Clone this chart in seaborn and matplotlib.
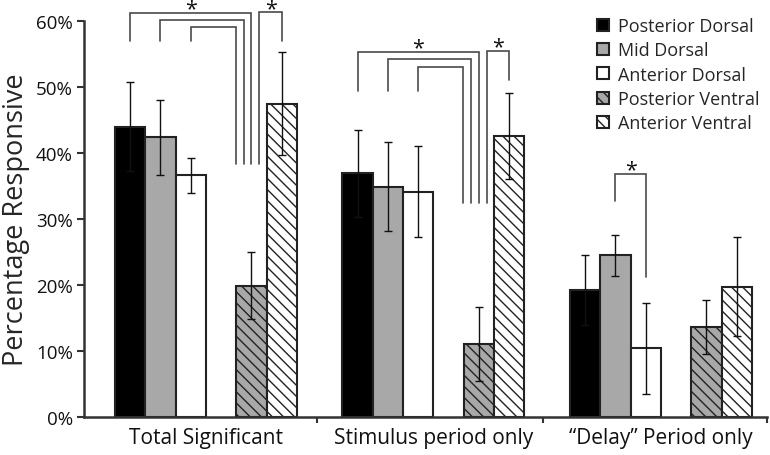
import numpy as np
import pandas as pd
import matplotlib.pyplot as plt
import seaborn as sns
from matplotlib.ticker import PercentFormatter, FixedLocator

# data (percent responsive, +/- error)
groups = ["Total Significant", "Stimulus period only", "\u201cDelay\u201d Period only"]
regions = ["Posterior Dorsal", "Mid Dorsal", "Anterior Dorsal",
           "Posterior Ventral", "Anterior Ventral"]

posterior_dorsal = [44.0, 36.9, 19.3]
mid_dorsal = [42.4, 34.9, 24.5]
anterior_dorsal = [36.6, 34.1, 10.4]
posterior_ventral = [19.9, 11.1, 13.6]
anterior_ventral = [47.5, 42.6, 19.7]

err_posterior_dorsal = [6.8, 6.6, 5.3]
err_mid_dorsal = [5.7, 6.7, 3.1]
err_anterior_dorsal = [2.7, 6.9, 6.9]
err_posterior_ventral = [5.1, 5.6, 4.1]
err_anterior_ventral = [7.8, 6.5, 7.5]

values = [posterior_dorsal, mid_dorsal, anterior_dorsal, posterior_ventral, anterior_ventral]
errors = [err_posterior_dorsal, err_mid_dorsal, err_anterior_dorsal,
          err_posterior_ventral, err_anterior_ventral]

# long form table, with an empty slot between dorsal and ventral bars
gap = "gap"
hue_order = regions[:3] + [gap] + regions[3:]
rows = []
for r, vals in zip(regions, values):
    for g, v in zip(groups, vals):
        rows.append({"group": g, "region": r, "value": v})
for g in groups:
    rows.append({"group": g, "region": gap, "value": 0.0})
df = pd.DataFrame(rows)

palette = {"Posterior Dorsal": "#000000", "Mid Dorsal": "#a8a8a8",
           "Anterior Dorsal": "#ffffff", gap: "#ffffff",
           "Posterior Ventral": "#a8a8a8", "Anterior Ventral": "#ffffff"}
hatches = {"Posterior Ventral": "\\\\\\", "Anterior Ventral": "\\\\\\"}

sns.set_style("white")
plt.rcParams["font.family"] = ["Open Sans", "DejaVu Sans"]
plt.rcParams["hatch.linewidth"] = 1.0

fig = plt.figure(figsize=(7.7, 4.56), dpi=100)
ax = fig.add_axes([84 / 770, 38 / 456, 683 / 770, 396 / 456])

sns.barplot(data=df, x="group", y="value", hue="region", order=groups,
            hue_order=hue_order, palette=palette, errorbar=None,
            edgecolor="#222222", linewidth=1.5, width=0.8, legend=False, ax=ax)

# style bars, find bar centres
centres = {}
bar_w = None
for name, cont in zip(hue_order, ax.containers):
    if name == gap:
        for p in cont.patches:
            p.set_visible(False)
        continue
    for p in cont.patches:
        if name in hatches:
            p.set_hatch(hatches[name])
    centres[name] = [p.get_x() + p.get_width() / 2 for p in cont.patches]
    bar_w = cont.patches[0].get_width()

# error bars
for name, vals, errs in zip(regions, values, errors):
    ax.errorbar(centres[name], vals, yerr=errs, fmt="none", ecolor="#111111",
                elinewidth=1.0, capsize=2.7, capthick=1.0, zorder=5)

# significance brackets
bcol = "#4a4a4a"


def bracket(x1, x2, top, b1, b2, star=None):
    ax.plot([x1, x1, x2, x2], [b1, top, top, b2], color=bcol, lw=1.2,
            clip_on=False, solid_joinstyle="miter", zorder=4)
    if star is not None:
        ax.annotate("*", xy=(star, top), xytext=(0, -1.0), textcoords="offset points",
                    ha="center", va="baseline", fontsize=15.5, color="#111111",
                    annotation_clip=False)


offs = [-0.52 * bar_w, -0.26 * bar_w, 0.0, 0.26 * bar_w]
pv = "Posterior Ventral"
# Total Significant
g = 0
bracket(centres["Posterior Dorsal"][g], centres[pv][g] + offs[2], 61.2, 57.0, 38.3,
        star=centres["Anterior Dorsal"][g])
bracket(centres["Mid Dorsal"][g], centres[pv][g] + offs[1], 60.2, 57.0, 38.3)
bracket(centres["Anterior Dorsal"][g], centres[pv][g] + offs[0], 59.1, 57.0, 38.3)
bracket(centres[pv][g] + offs[3], centres["Anterior Ventral"][g], 61.3, 38.3, 56.9,
        star=(centres[pv][g] + offs[3] + centres["Anterior Ventral"][g]) / 2)
# Stimulus period only
g = 1
bracket(centres["Posterior Dorsal"][g], centres[pv][g] + offs[2], 55.3, 49.4, 32.4,
        star=centres["Anterior Dorsal"][g])
bracket(centres["Mid Dorsal"][g], centres[pv][g] + offs[1], 54.3, 49.4, 32.4)
bracket(centres["Anterior Dorsal"][g], centres[pv][g] + offs[0], 53.1, 49.4, 32.4)
bracket(centres[pv][g] + offs[3], centres["Anterior Ventral"][g], 55.5, 32.4, 51.0,
        star=(centres[pv][g] + offs[3] + centres["Anterior Ventral"][g]) / 2)
# Delay period only
g = 2
bracket(centres["Mid Dorsal"][g], centres["Anterior Dorsal"][g], 36.8, 32.8, 21.2,
        star=(centres["Mid Dorsal"][g] + centres["Anterior Dorsal"][g]) / 2)

# axes
ax.set_ylim(0, 60)
ax.set_xlim(-0.536, 2.466)
ax.yaxis.set_major_formatter(PercentFormatter(xmax=100, decimals=0))
ax.set_yticks(range(0, 61, 10))
ax.set_xlabel("")
ax.set_ylabel("Percentage Responsive", fontsize=19.5, labelpad=4)
ax.tick_params(axis="y", labelsize=13.5, length=5, width=1.5, direction="out",
               left=True, color="#333333", pad=3, labelcolor="#111111")
ax.tick_params(axis="x", which="major", labelsize=15, length=0, pad=7,
               labelcolor="#111111")
ax.xaxis.set_minor_locator(FixedLocator([0.49, 1.48, 2.466]))
ax.tick_params(axis="x", which="minor", length=4, width=1.5, direction="out",
               bottom=True, color="#333333")
sns.despine(ax=ax)
for s in ["left", "bottom"]:
    ax.spines[s].set_linewidth(1.8)
    ax.spines[s].set_color("#333333")

# legend
handles = [c for name, c in zip(hue_order, ax.containers) if name != gap]
ax.legend(handles, regions, loc="upper left", bbox_to_anchor=(597 / 770, 1 - 18 / 456),
          bbox_transform=fig.transFigure, frameon=False, fontsize=13,
          handlelength=0.65, handleheight=0.65, handletextpad=0.5,
          labelspacing=0.35, borderaxespad=0, borderpad=0)

fig.savefig("out.png", dpi=100)
